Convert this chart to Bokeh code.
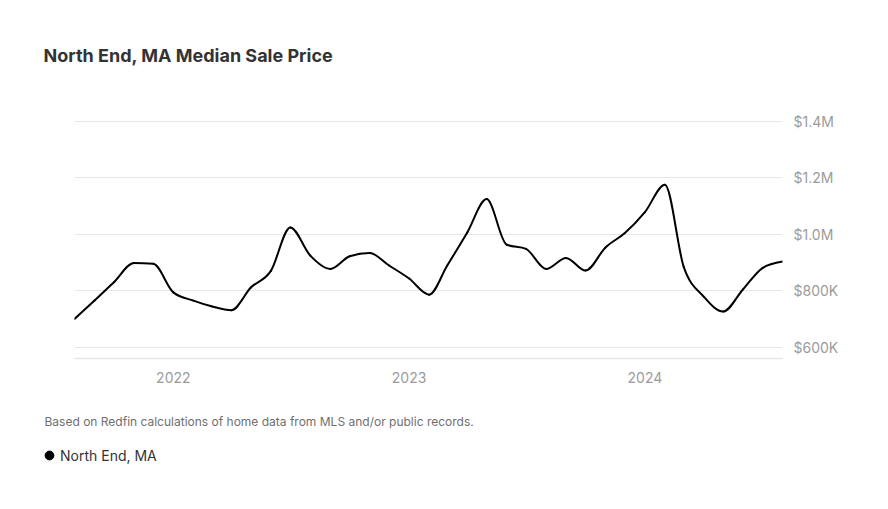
import datetime as dt
from bokeh.plotting import figure
from bokeh.layouts import column
from bokeh.models import FixedTicker, Legend, LegendItem, Range1d, ColumnDataSource, Title, Label
from bokeh.embed import file_html
from bokeh.resources import INLINE

# ---- data ----
months = ["2021-08", "2021-09", "2021-10", "2021-11", "2021-12",
          "2022-01", "2022-02", "2022-03", "2022-04", "2022-05", "2022-06",
          "2022-07", "2022-08", "2022-09", "2022-10", "2022-11", "2022-12",
          "2023-01", "2023-02", "2023-03", "2023-04", "2023-05", "2023-06",
          "2023-07", "2023-08", "2023-09", "2023-10", "2023-11", "2023-12",
          "2024-01", "2024-02", "2024-03", "2024-04", "2024-05", "2024-06",
          "2024-07", "2024-08"]
prices = [700000, 765000, 830000, 898000, 895000,
          794000, 765000, 745000, 731000, 811000, 870000,
          1024000, 924000, 877000, 922000, 933000, 889000,
          843000, 786000, 889000, 1006000, 1124000, 963000,
          948000, 877000, 916000, 871000, 953000, 1004000,
          1078000, 1175000, 885000, 779000, 726000, 805000,
          880000, 903000]
y_ticks = [600000, 800000, 1000000, 1200000, 1400000]
y_tick_labels = ["$600K", "$800K", "$1.0M", "$1.2M", "$1.4M"]
x_tick_years = ["2022", "2023", "2024"]
series_name = "North End, MA"
title_text = "North End, MA Median Sale Price"
footer_text = "Based on Redfin calculations of home data from MLS and/or public records."

FONT = "Inter"


def to_ms(d):
    return (d - dt.datetime(1970, 1, 1)).total_seconds() * 1000.0


xs = [to_ms(dt.datetime.strptime(m, "%Y-%m")) for m in months]
ys = list(prices)

# monotone-X cubic tangents (as d3.curveMonotoneX) for smooth rendering
n = len(xs)
def sign(v):
    return (v > 0) - (v < 0)
t = [0.0] * n
for i in range(1, n - 1):
    h0 = xs[i] - xs[i - 1]
    h1 = xs[i + 1] - xs[i]
    s0 = (ys[i] - ys[i - 1]) / h0
    s1 = (ys[i + 1] - ys[i]) / h1
    pp = (s0 * h1 + s1 * h0) / (h0 + h1)
    t[i] = (sign(s0) + sign(s1)) * min(abs(s0), abs(s1), 0.5 * abs(pp))
t[0] = (3 * (ys[1] - ys[0]) / (xs[1] - xs[0]) - t[1]) / 2
t[-1] = (3 * (ys[-1] - ys[-2]) / (xs[-1] - xs[-2]) - t[-2]) / 2

seg = dict(x0=[], y0=[], x1=[], y1=[], cx0=[], cy0=[], cx1=[], cy1=[])
for i in range(n - 1):
    dx = (xs[i + 1] - xs[i]) / 3.0
    seg["x0"].append(xs[i]); seg["y0"].append(ys[i])
    seg["x1"].append(xs[i + 1]); seg["y1"].append(ys[i + 1])
    seg["cx0"].append(xs[i] + dx); seg["cy0"].append(ys[i] + dx * t[i])
    seg["cx1"].append(xs[i + 1] - dx); seg["cy1"].append(ys[i + 1] - dx * t[i + 1])

p = figure(
    x_axis_type="datetime",
    frame_width=708, frame_height=258,
    min_border_left=74, min_border_right=80,
    min_border_top=100, min_border_bottom=37,
    y_axis_location="right",
    output_backend="svg", toolbar_location=None,
    x_range=Range1d(xs[0], xs[-1]),
    y_range=Range1d(560000, 1473000),
)
p.frame_align = False
p.outline_line_color = None
p.background_fill_color = "white"
p.border_fill_color = "white"

p.bezier(source=ColumnDataSource(seg), x0="x0", y0="y0", x1="x1", y1="y1",
         cx0="cx0", cy0="cy0", cx1="cx1", cy1="cy1",
         line_color="#000000", line_width=2, line_cap="round")

# axes
p.yaxis.ticker = FixedTicker(ticks=y_ticks)
p.yaxis.major_label_overrides = {v: s for v, s in zip(y_ticks, y_tick_labels)}
p.yaxis.axis_line_color = None
p.yaxis.major_tick_line_color = None
p.yaxis.minor_tick_line_color = None
p.yaxis.major_label_standoff = 5
p.yaxis.major_label_text_font = FONT
p.yaxis.major_label_text_font_size = "14px"
p.yaxis.major_label_text_color = "#9b9b9b"

x_ticks = [to_ms(dt.datetime(int(yr), 1, 1)) for yr in x_tick_years]
p.xaxis.ticker = FixedTicker(ticks=x_ticks)
p.xaxis.major_label_overrides = {v: s for v, s in zip(x_ticks, x_tick_years)}
p.xaxis.axis_line_color = "#e6e6e6"
p.xaxis.axis_line_width = 1.5
p.xaxis.major_tick_line_color = None
p.xaxis.minor_tick_line_color = None
p.xaxis.major_label_standoff = 7
p.xaxis.major_label_text_font = FONT
p.xaxis.major_label_text_font_size = "14px"
p.xaxis.major_label_text_color = "#9b9b9b"

p.xgrid.grid_line_color = None
p.ygrid.ticker = FixedTicker(ticks=y_ticks)
p.ygrid.grid_line_color = "#e6e6e6"
p.ygrid.grid_line_width = 1

# title (above the plot)
p.add_layout(Title(text=title_text, align="left", offset=-31, standoff=70,
                   text_font=FONT, text_font_size="18px", text_font_style="bold",
                   text_color="#333333"), "above")

# ---- footer strip: source note + legend ----
FW, FH = 862, 100
f2 = figure(width=FW, height=FH, min_border=0, toolbar_location=None,
            output_backend="svg", x_range=Range1d(0, FW), y_range=Range1d(0, FH))
f2.frame_align = False
f2.axis.visible = False
f2.grid.visible = False
f2.outline_line_color = None
f2.background_fill_color = "white"
f2.border_fill_color = "white"

f2.add_layout(Label(x=44, y=74, x_units="screen", y_units="screen", text=footer_text,
                    text_font=FONT, text_font_size="12px", text_color="#6f6f6f",
                    text_baseline="middle", text_align="left"))

# legend swatch renderer: the series itself, which lies outside this strip's ranges
dot = f2.scatter(x=xs, y=ys, marker="circle", size=10,
                 fill_color="#000000", line_color="#000000")
legend = Legend(items=[LegendItem(label=series_name, renderers=[dot])],
                location=(38, 29), orientation="horizontal",
                glyph_width=22, glyph_height=22, label_standoff=0,
                padding=0, margin=0, spacing=0,
                border_line_color=None, background_fill_alpha=0,
                label_text_font=FONT, label_text_font_size="14px",
                label_text_color="#333333")
f2.add_layout(legend, "center")

layout = column(p, f2, spacing=0)
open("out.html", "w").write(file_html(layout, INLINE))
